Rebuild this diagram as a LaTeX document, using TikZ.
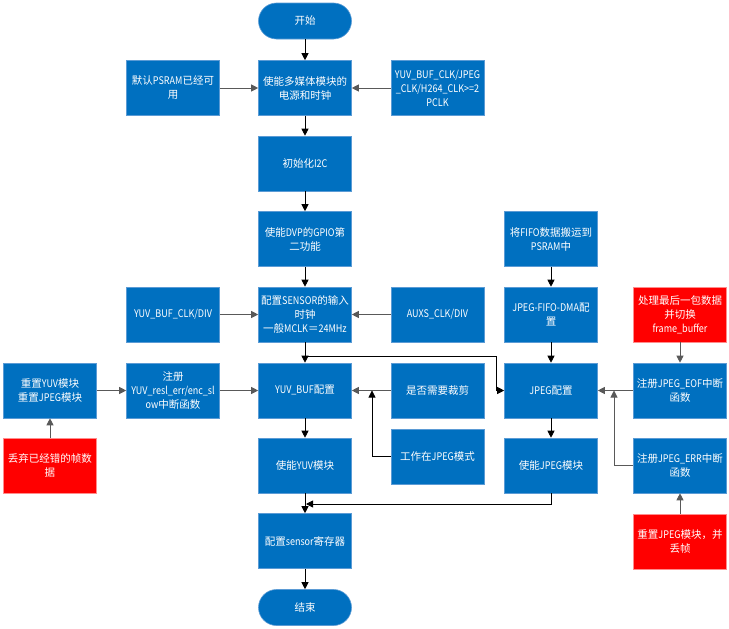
\documentclass[tikz,border=0pt]{standalone}
\usepackage{fontspec}
\setmainfont{Noto Sans CJK SC}
\newfontfamily\latfontx{Noto Sans CJK SC}[FakeStretch=0.86]
\newcommand\LatN[1]{{\latfontx #1}}
\usetikzlibrary{arrows.meta}
\definecolor{bfill}{RGB}{0,112,192}
\definecolor{bbord}{RGB}{91,155,213}
\definecolor{rfill}{RGB}{255,0,0}
\definecolor{rbord}{RGB}{255,140,140}
\definecolor{lgray}{RGB}{89,89,89}
\tikzset{
  box/.style={rectangle, fill=bfill, draw=bbord, line width=0.6pt, minimum width=93pt, minimum height=55pt, inner sep=0pt, align=center, text=white, font=\fontsize{10.5}{14}\selectfont},
  rbox/.style={box, fill=rfill, draw=rbord},
  term/.style={box, minimum height=36pt, rounded corners=18pt},
  arr/.style={draw=black, line width=0.8pt, -{Triangle[length=7pt,width=7pt]}},
  garr/.style={draw=lgray, line width=0.9pt, -{Triangle[length=7pt,width=7pt]}, color=lgray},
}
\begin{document}
\begin{tikzpicture}[x=1pt,y=-1pt]
\useasboundingbox (0,0) rectangle (729,629);
% column C
\node[term] (start) at (305,21) {开始};
\node[box] (m1) at (305,88) {使能多媒体模块的\\电源和时钟};
\node[box] (i2c) at (305,163.5) {初始化\LatN{I2C}};
\node[box] (dvp) at (305,239) {使能\LatN{DVP}的\LatN{GPIO}第\\二功能};
\node[box] (sensor) at (305,314.5) {配置\LatN{SENSOR}的输入\\时钟\\一般\LatN{MCLK}＝\LatN{24MHz}};
\node[box] (yuvbuf) at (305,390.5) {\LatN{YUV\_BUF}配置};
\node[box] (enyuv) at (305,465.5) {使能\LatN{YUV}模块};
\node[box] (sensreg) at (305,541) {配置\LatN{sensor}寄存器};
\node[term] (end) at (305,607.5) {结束};
% column B
\node[box] (psram) at (173,88) {默认\LatN{PSRAM}已经可\\用};
\node[box] (yuvdiv) at (173,314.5) {\LatN{YUV\_BUF\_CLK/DIV}};
\node[box] (regyuv) at (173,390.5) {注册\\\LatN{YUV\_resl\_err/enc\_sl}\\\LatN{ow}中断函数};
% column A
\node[box] (resetyuv) at (50,390.5) {重置\LatN{YUV}模块\\重置\LatN{JPEG}模块};
\node[rbox] (drop) at (50,465.5) {丢弃已经错的帧数\\据};
% column D
\node[box] (clk1) at (437.5,88) {\LatN{YUV\_BUF\_CLK/JPEG}\\\LatN{\_CLK/H264\_CLK>=2}\\\LatN{PCLK}};
\node[box] (auxs) at (437.5,314.5) {\LatN{AUXS\_CLK/DIV}};
\node[box] (crop) at (437.5,390.5) {是否需要裁剪};
\node[box] (jpegmode) at (437.5,456.5) {工作在\LatN{JPEG}模式};
% column E
\node[box] (fifo) at (551,239) {将\LatN{FIFO}数据搬运到\\\LatN{PSRAM}中};
\node[box] (dma) at (551,314.5) {\LatN{JPEG-FIFO-DMA}配\\置};
\node[box] (jpegcfg) at (551,390.5) {\LatN{JPEG}配置};
\node[box] (enjpeg) at (551,465.5) {使能\LatN{JPEG}模块};
% column F
\node[rbox] (last) at (680,314.5) {处理最后一包数据\\并切换\\\LatN{frame\_buffer}};
\node[box] (eof) at (680,390.5) {注册\LatN{JPEG\_EOF}中断\\函数};
\node[box] (err) at (680,465.5) {注册\LatN{JPEG\_ERR}中断\\函数};
\node[rbox] (resetjpeg) at (680,541.5) {重置\LatN{JPEG}模块，并\\丢帧};
% helper coordinates
\coordinate (j1) at (305,356);
\coordinate (k1) at (496,356);
\coordinate (m2) at (372,390.5);
\coordinate (m3) at (306,504);
\coordinate (m4) at (614,390.5);
% connectors
\draw[arr] (start) -- (m1);
\draw[garr] (psram) -- (m1);
\draw[garr] (clk1) -- (m1);
\draw[arr] (m1) -- (i2c);
\draw[arr] (i2c) -- (dvp);
\draw[arr] (dvp) -- (sensor);
\draw[garr] (yuvdiv) -- (sensor);
\draw[garr] (auxs) -- (sensor);
\draw[arr] (sensor) -- (yuvbuf);
\draw[arr] (j1) -- (k1) |- (jpegcfg.west);
\draw[garr] (resetyuv) -- (regyuv);
\draw[garr] (regyuv) -- (yuvbuf);
\draw[garr] (drop) -- (resetyuv);
\draw[garr] (crop) -- (yuvbuf);
\draw[arr] (jpegmode.west) -| (m2);
\draw[arr] (yuvbuf) -- (enyuv);
\draw[arr] (enyuv) -- (sensreg);
\draw[arr] (sensreg) -- (end);
\draw[arr] (enjpeg.south) |- (m3);
\draw[arr] (fifo) -- (dma);
\draw[arr] (dma) -- (jpegcfg);
\draw[arr] (jpegcfg) -- (enjpeg);
\draw[garr] (last) -- (eof);
\draw[garr] (eof) -- (jpegcfg);
\draw[garr] (err.west) -| (m4);
\draw[garr] (resetjpeg) -- (err);
\end{tikzpicture}
\end{document}
